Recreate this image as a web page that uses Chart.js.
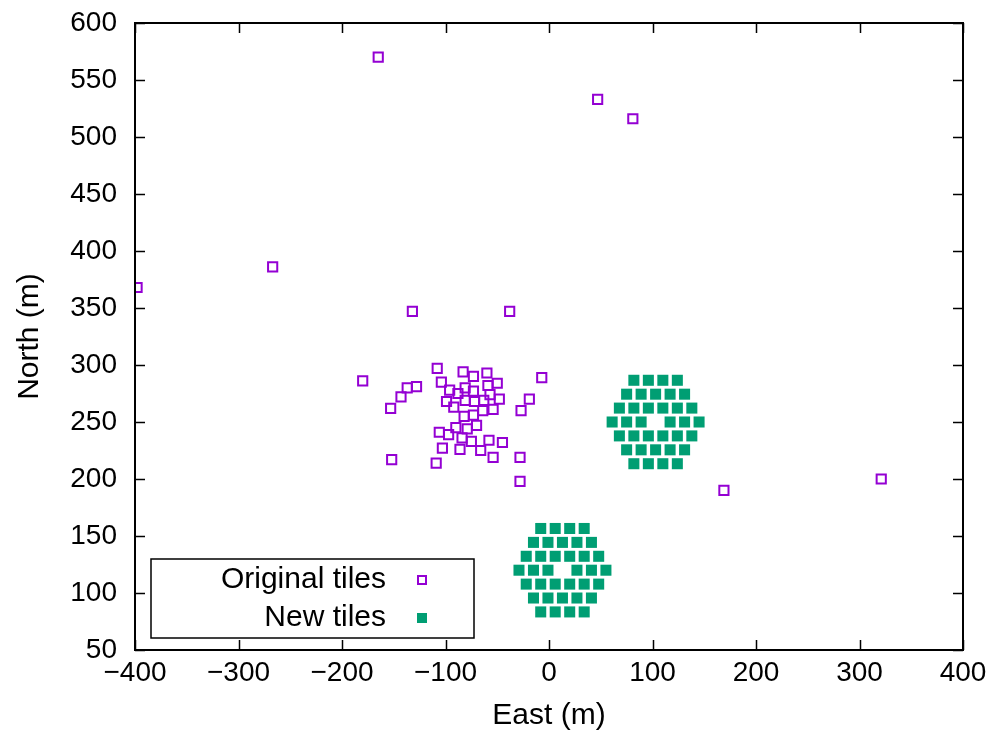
<!DOCTYPE html>
<html>
<head>
<meta charset="utf-8">
<script src="https://cdn.jsdelivr.net/npm/chart.js@4"></script>
<style>
  body { margin: 0; background: #fff; }
</style>
</head>
<body>
<canvas id="chart" width="994" height="734"></canvas>
<script>
// Original tiles (East, North) in metres
const origX = [-165, 47, 81, -398, -267, -132, -38, 169, 321,
  -180, -108, -83, -73, -60, -7, -104, -128, -137, -143, -153,
  -50, -59, -96, -81, -73, -88, -57, -48, -99, -81, -72, -63,
  -92, -64, -54, -19, -27, -82, -73, -70, -90, -79, -106, -97,
  -84, -75, -58, -45, -103, -86, -66, -54, -28, -152, -109, -28];
const origY = [570, 533, 516, 368, 386, 347, 347, 190, 200,
  286, 297, 294, 290, 293, 289, 285, 281, 280, 272, 262,
  284, 282, 278, 280, 277, 275, 274, 270, 268, 269, 268, 269,
  263, 260, 261, 270, 260, 255, 256, 247, 245, 244, 241, 239,
  236, 233, 234, 232, 227, 226, 225, 219, 219, 217, 214, 198];

// New tiles: two compact hexagons
const newX = [
  82, 96, 110, 124,
  75, 89, 103, 117, 131,
  68, 82, 96, 110, 124, 138,
  61, 75, 89, 117, 131, 145,
  68, 82, 96, 110, 124, 138,
  75, 89, 103, 117, 131,
  82, 96, 110, 124,
  -8, 6, 20, 34,
  -15, -1, 13, 27, 41,
  -22, -8, 6, 20, 34, 48,
  -29, -15, -1, 27, 41, 55,
  -22, -8, 6, 20, 34, 48,
  -15, -1, 13, 27, 41,
  -8, 6, 20, 34];
const newY = [
  286.6, 286.6, 286.6, 286.6,
  274.4, 274.4, 274.4, 274.4, 274.4,
  262.2, 262.2, 262.2, 262.2, 262.2, 262.2,
  250, 250, 250, 250, 250, 250,
  237.8, 237.8, 237.8, 237.8, 237.8, 237.8,
  225.6, 225.6, 225.6, 225.6, 225.6,
  213.4, 213.4, 213.4, 213.4,
  156.6, 156.6, 156.6, 156.6,
  144.4, 144.4, 144.4, 144.4, 144.4,
  132.2, 132.2, 132.2, 132.2, 132.2, 132.2,
  120, 120, 120, 120, 120, 120,
  107.8, 107.8, 107.8, 107.8, 107.8, 107.8,
  95.6, 95.6, 95.6, 95.6, 95.6,
  83.4, 83.4, 83.4, 83.4];

const seriesNames = ['Original tiles', 'New tiles'];
const purple = '#9400d3';
const green = '#009e73';
const font = 'Liberation Sans, Arial, Helvetica, sans-serif';

const toPoints = (xs, ys) => xs.map((x, i) => ({ x: x, y: ys[i] }));
const minus = v => (v < 0 ? '\u2212' + Math.abs(v) : String(v));

// gnuplot style frame: box round the plot with inward ticks on all sides
const framePlugin = {
  id: 'frame',
  afterDatasetsDraw(chart) {
    const { ctx, chartArea: a, scales } = chart;
    const len = 10;
    ctx.save();
    ctx.strokeStyle = '#000';
    ctx.lineWidth = 1.5;
    scales.x.ticks.forEach(t => {
      const px = Math.round(scales.x.getPixelForValue(t.value)) + 0.5;
      ctx.beginPath();
      ctx.moveTo(px, a.bottom); ctx.lineTo(px, a.bottom - len);
      ctx.moveTo(px, a.top); ctx.lineTo(px, a.top + len);
      ctx.stroke();
    });
    scales.y.ticks.forEach(t => {
      const py = Math.round(scales.y.getPixelForValue(t.value)) + 0.5;
      ctx.beginPath();
      ctx.moveTo(a.left, py); ctx.lineTo(a.left + len, py);
      ctx.moveTo(a.right, py); ctx.lineTo(a.right - len, py);
      ctx.stroke();
    });
    ctx.lineWidth = 2;
    ctx.strokeRect(a.left, a.top, a.right - a.left, a.bottom - a.top);
    ctx.restore();
  }
};

// legend box at lower left, text right-aligned with the marker after it
const keyPlugin = {
  id: 'key',
  afterDraw(chart) {
    const { ctx } = chart;
    ctx.save();
    ctx.fillStyle = '#fff';
    ctx.fillRect(151, 559, 323, 79);
    ctx.strokeStyle = '#000';
    ctx.lineWidth = 1.5;
    ctx.strokeRect(151, 559, 323, 79);
    ctx.font = '30px ' + font;
    ctx.textAlign = 'right';
    ctx.textBaseline = 'middle';
    ctx.fillStyle = '#000';
    const rows = [580, 618];
    chart.data.datasets.forEach((ds, i) => {
      ctx.fillText(ds.label, 386, rows[i]);
      if (i === 0) {
        ctx.strokeStyle = ds.borderColor;
        ctx.lineWidth = 2;
        ctx.strokeRect(418, rows[i] - 4, 8, 8);
      } else {
        ctx.fillStyle = ds.backgroundColor;
        ctx.fillRect(417, rows[i] - 5, 10, 10);
      }
    });
    ctx.restore();
  }
};

const config = {
  type: 'scatter',
  data: {
    datasets: [
      {
        label: seriesNames[0],
        data: toPoints(origX, origY),
        pointStyle: 'rect',
        pointRadius: 6.5,
        pointHoverRadius: 6.5,
        borderColor: purple,
        backgroundColor: 'rgba(0,0,0,0)',
        borderWidth: 2,
      },
      {
        label: seriesNames[1],
        data: toPoints(newX, newY),
        pointStyle: 'rect',
        pointRadius: 7.8,
        pointHoverRadius: 7.8,
        borderColor: green,
        backgroundColor: green,
        borderWidth: 0,
      }
    ],
  },
  options: {
    responsive: false,
    animation: false,
    layout: { padding: { top: 23, right: 31 } },
    plugins: {
      legend: { display: false },
      tooltip: { enabled: false },
    },
    scales: {
      x: {
        min: -400, max: 400,
        grid: { display: false, drawTicks: false },
        border: { display: false },
        ticks: {
          stepSize: 100, padding: 6, color: '#000',
          font: { family: font, size: 28 },
          maxRotation: 0,
          callback: v => minus(v),
        },
        title: {
          display: true, text: 'East (m)', color: '#000',
          font: { family: font, size: 30 }, padding: 0,
        },
        afterFit: s => { s.height = 84; },
      },
      y: {
        min: 50, max: 600,
        grid: { display: false, drawTicks: false },
        border: { display: false },
        ticks: {
          stepSize: 50, padding: 18, color: '#000',
          font: { family: font, size: 28 },
          callback: v => minus(v),
        },
        title: {
          display: true, text: 'North (m)', color: '#000',
          font: { family: font, size: 30 }, padding: { top: 12, bottom: 0 },
        },
        afterFit: s => { s.width = 135; s.paddingTop = 0; s.paddingBottom = 0; },
      },
    },
  },
  plugins: [framePlugin, keyPlugin],
};

new Chart(document.getElementById('chart'), config);
</script>
</body>
</html>
